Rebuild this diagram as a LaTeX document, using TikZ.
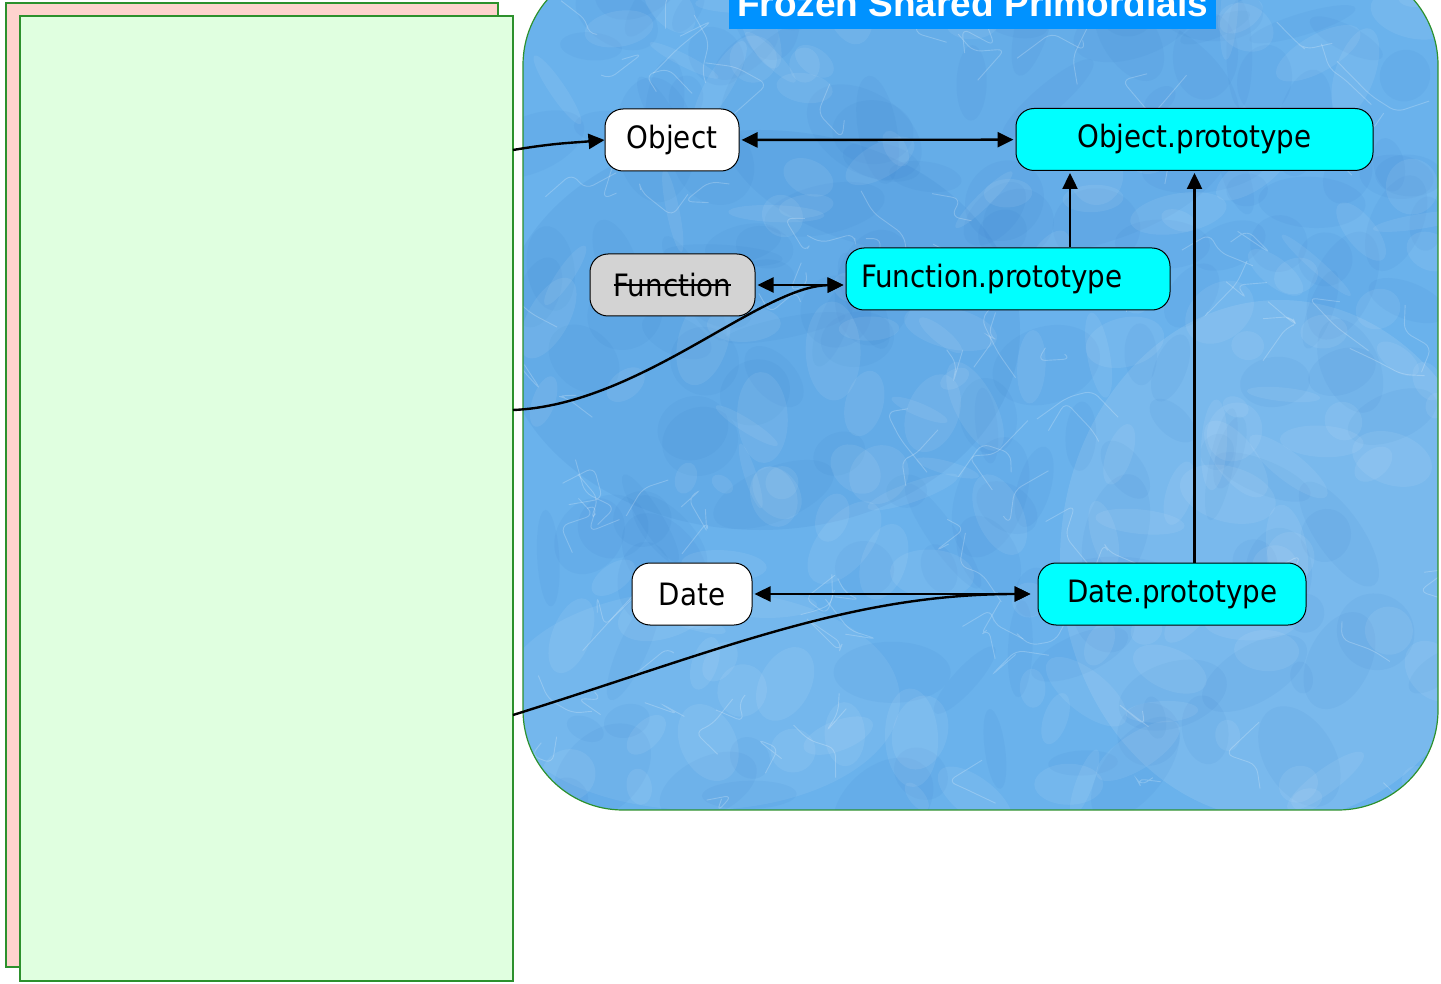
\documentclass[tikz,border=0pt]{standalone}
\usepackage{fontspec}
\setmainfont{DejaVu Sans Condensed}
\newfontfamily\titlefont{Liberation Sans}
\usetikzlibrary{arrows.meta}

\definecolor{realmpink}{RGB}{255,211,206}
\definecolor{realmgreen}{RGB}{224,255,224}
\definecolor{realmedge}{RGB}{45,145,45}
\definecolor{icebase}{RGB}{106,178,236}
\definecolor{icedark}{RGB}{45,115,195}
\definecolor{protocyan}{RGB}{0,255,255}
\definecolor{titleblue}{RGB}{0,146,255}
\definecolor{ctorgray}{RGB}{211,211,211}

% word with a line drawn through it
\newcommand\strikeword[1]{\setbox0\hbox{#1}\rlap{\copy0}\rule[0.33em]{\wd0}{0.065em}}

\tikzset{
  realm/.style={draw=realmedge, line width=0.6pt, inner sep=0pt, outer sep=0pt},
  objbox/.style={draw=black, line width=0.5pt, rounded corners=9pt, minimum height=31pt,
    inner sep=0pt, font=\fontsize{15.4}{18}\selectfont},
  ctor/.style={objbox, fill=white},
  proto/.style={objbox, fill=protocyan},
  link/.style={line width=1.2pt, -{Triangle[length=8pt,width=7.5pt]}},
  twoway/.style={line width=1.2pt, {Triangle[length=8pt,width=7.5pt]}-{Triangle[length=8pt,width=7.5pt]}},
}

\begin{document}
\begin{tikzpicture}[x=0.5pt, y=-0.5pt]
\useasboundingbox (0,0) rectangle (1441,984);

% realm boxes
\node[realm, fill=realmpink, minimum width=246pt, minimum height=482pt, anchor=north west] (realmback) at (6,3) {};
\node[realm, fill=realmgreen, minimum width=246.5pt, minimum height=482.5pt, anchor=north west] (realm) at (20,16) {};

% frozen ice region
\begin{scope}
  \clip[rounded corners=50pt] (523,-35) rectangle (1438,810);
  \fill[icebase] (523,-35) rectangle (1438,810);
  % broad darker and lighter zones
  \fill[icedark, opacity=0.10] (760,330) ellipse (260 and 200);
  \fill[icedark, opacity=0.08] (980,120) ellipse (260 and 140);
  \fill[white, opacity=0.10] (1280,560) ellipse (220 and 260);
  \fill[white, opacity=0.07] (700,700) ellipse (200 and 110);
  \pgfmathsetseed{42}
  \foreach \k in {1,...,160}{
    \pgfmathsetmacro\cx{523+915*rnd}
    \pgfmathsetmacro\cy{-35+845*rnd}
    \pgfmathsetmacro\rx{15+50*rnd}
    \pgfmathsetmacro\ry{10+30*rnd}
    \pgfmathsetmacro\ang{180*rnd}
    \fill[icedark, opacity=0.07, rotate around={\ang:(\cx,\cy)}] (\cx,\cy) ellipse ({\rx} and {\ry});
  }
  \foreach \k in {1,...,160}{
    \pgfmathsetmacro\cx{523+915*rnd}
    \pgfmathsetmacro\cy{-35+845*rnd}
    \pgfmathsetmacro\rx{10+40*rnd}
    \pgfmathsetmacro\ry{6+22*rnd}
    \pgfmathsetmacro\ang{180*rnd}
    \fill[white, opacity=0.07, rotate around={\ang:(\cx,\cy)}] (\cx,\cy) ellipse ({\rx} and {\ry});
  }
  \foreach \k in {1,...,110}{
    \pgfmathsetmacro\cx{523+915*rnd}
    \pgfmathsetmacro\cy{-35+845*rnd}
    \draw[white, opacity=0.22, line width=0.45pt, rounded corners=4pt]
      (\cx,\cy) -- ++(35*rand,35*rand) -- ++(35*rand,35*rand) -- ++(35*rand,35*rand);
  }
\end{scope}
\draw[draw=realmedge, line width=0.6pt, rounded corners=50pt] (523,-35) rectangle (1438,810);

% title
\node[fill=titleblue, text=white, font=\titlefont\bfseries\fontsize{18.5}{22}\selectfont,
  inner xsep=4pt, inner ysep=6.25pt, anchor=base] (title) at (972.5,16.5) {Frozen Shared Primordials};

% objects
\node[ctor, minimum width=67pt] (obj) at (672,140) {Object};
\node[proto, minimum width=178.5pt] (objp) at (1194.5,139.5) {Object.prototype};
\node[objbox, fill=ctorgray, minimum width=82.5pt] (fn) at (672.5,285) {\strikeword{Function}};
\node[proto, text width=147pt, align=left, inner xsep=7.5pt] (fnp) at (1008,279) {Function.prototype};
\node[ctor, minimum width=60pt] (dt) at (692,594) {Date};
\node[proto, minimum width=134pt] (dp) at (1172,594) {Date.prototype};

% links between primordials
\coordinate (fnup) at (1070,0);
\draw[twoway, shorten <=1pt, shorten >=1pt] (obj) -- (objp);
\draw[link, shorten >=1pt] (fnp.north -| fnup) -- (objp.south -| fnup);
\draw[link, shorten >=1pt] (dp.north -| objp.south) -- (objp.south);
\draw[twoway, shorten <=1pt, shorten >=1pt] (fn.east) -- (fn.east -| fnp.west);
\draw[twoway, shorten <=1pt, shorten >=3.5pt] (dt) -- (dp);

% links from the realm
\coordinate (s1) at (513,150);
\coordinate (s2) at (513,410);
\coordinate (s3) at (513,715);
\draw[link] (s1) .. controls (555,143) and (570,143) .. (obj.west);
\draw[link, shorten >=1pt] (s2) .. controls (640,405) and (760,286) .. (fn.east -| fnp.west);
\draw[link, shorten >=3.5pt] (s3) .. controls (720,650) and (850,594) .. (dp.west);
\end{tikzpicture}
\end{document}
